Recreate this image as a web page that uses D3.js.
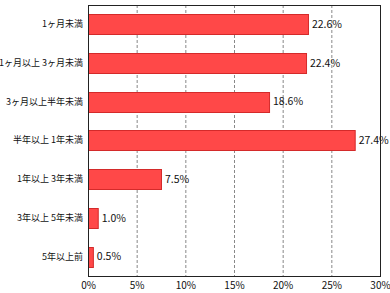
<!DOCTYPE html>
<html>
<head>
<meta charset="utf-8">
<script src="https://cdn.jsdelivr.net/npm/d3@7"></script>
<style>
body { margin: 0; background: #fff; }
text { font-family: "Noto Sans CJK JP", sans-serif; fill: #111; }
</style>
</head>
<body>
<svg id="chart" width="390" height="293"></svg>
<script>
var categories = ["1ヶ月未満", "1ヶ月以上 3ヶ月未満", "3ヶ月以上半年未満", "半年以上 1年未満", "1年以上 3年未満", "3年以上 5年未満", "5年以上前"];
var values = [22.6, 22.4, 18.6, 27.4, 7.5, 1.0, 0.5];
var ticks = [0, 5, 10, 15, 20, 25, 30];

var svg = d3.select("#chart");
// note: "top" is taken by window.top, so use plot* names
var plotLeft = 88, plotRight = 380, plotTop = 5, plotBottom = 276;

var x = d3.scaleLinear().domain([0, 30]).range([plotLeft, plotRight]);
var y = d3.scaleBand().domain(categories).range([plotTop, plotBottom]).paddingInner(0.48).paddingOuter(0.24);

// grid
svg.append("g").selectAll("line")
  .data(ticks.slice(1, -1))
  .enter().append("line")
  .attr("x1", function(d) { return x(d) + 0.5; })
  .attr("x2", function(d) { return x(d) + 0.5; })
  .attr("y1", plotTop).attr("y2", plotBottom)
  .attr("stroke", "#888")
  .attr("stroke-dasharray", "3,2");

// bars
svg.append("g").selectAll("rect")
  .data(values)
  .enter().append("rect")
  .attr("x", x(0) + 0.5)
  .attr("y", function(d, i) { return Math.round(y(categories[i])) + 0.5; })
  .attr("width", function(d) { return x(d) - x(0); })
  .attr("height", Math.round(y.bandwidth()))
  .attr("fill", "#ff4848")
  .attr("stroke", "#d42a2a");

// value labels
svg.append("g").selectAll("text")
  .data(values)
  .enter().append("text")
  .attr("x", function(d) { return x(d) + 4; })
  .attr("y", function(d, i) { return y(categories[i]) + y.bandwidth() / 2; })
  .attr("dy", "0.35em")
  .style("font-size", "10.5px")
  .text(function(d) { return d.toFixed(1) + "%"; });

// frame
svg.append("rect")
  .attr("x", plotLeft + 0.5).attr("y", plotTop + 0.5)
  .attr("width", plotRight - plotLeft).attr("height", plotBottom - plotTop)
  .attr("fill", "none").attr("stroke", "#222");

// category axis
svg.append("g")
  .attr("transform", "translate(" + plotLeft + ",0)")
  .call(d3.axisLeft(y).tickSize(0).tickPadding(5))
  .call(function(g) { g.select(".domain").remove(); })
  .selectAll("text")
  .style("font-size", "9px");

// value axis
svg.append("g")
  .attr("transform", "translate(0," + plotBottom + ")")
  .call(d3.axisBottom(x).tickValues(ticks).tickSize(0).tickPadding(6).tickFormat(function(d) { return d + "%"; }))
  .call(function(g) { g.select(".domain").remove(); })
  .selectAll("text")
  .style("font-size", "10px");
</script>
</body>
</html>
